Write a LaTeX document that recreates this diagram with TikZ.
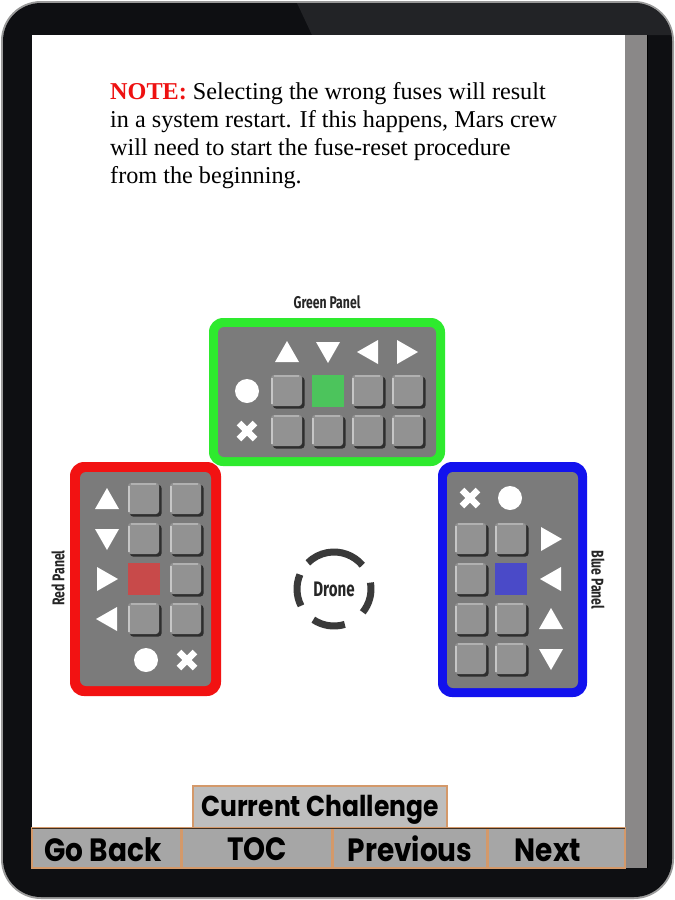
\documentclass[tikz,border=0pt]{standalone}
\usepackage{fontspec}
\usepackage{graphicx}
\setmainfont{Liberation Serif}
\newfontfamily\navfont{Poppins}
\newfontfamily\lblfont{Fira Sans}[FakeStretch=0.72]
\newcommand{\navt}[1]{\scalebox{1}[1.15]{#1}}
\definecolor{frameblack}{HTML}{0E0F12}
\definecolor{framehi}{HTML}{222326}
\definecolor{frameedge}{HTML}{9A9A9A}
\definecolor{stripgray}{HTML}{8A8888}
\definecolor{navgray}{HTML}{A6A6A6}
\definecolor{tabgray}{HTML}{BEBEBE}
\definecolor{tan}{HTML}{D4996A}
\definecolor{panelgray}{HTML}{7B7B7B}
\definecolor{btngray}{HTML}{929292}
\definecolor{btnlight}{HTML}{C6C6C6}
\definecolor{btnshadow}{HTML}{2E2E2E}
\definecolor{pgreen}{HTML}{2EEA2E}
\definecolor{pred}{HTML}{F21212}
\definecolor{pblue}{HTML}{1212EE}
\definecolor{selgreen}{HTML}{4CC45C}
\definecolor{selred}{HTML}{C84A4A}
\definecolor{selblue}{HTML}{4A4AC8}
\definecolor{dronegray}{HTML}{3A3A3A}
\definecolor{notered}{HTML}{EE1111}
\tikzset{
  btn/.pic={
    \fill[btnshadow, rounded corners=3] (-14,-14) rectangle (17.5,17.5);
    \fill[btngray, rounded corners=3] (-16,-16) rectangle (15,15);
    \fill[btnlight] (-16,-13) rectangle (-14,13);
    \fill[btnlight!60!btngray] (-13,-16) rectangle (12,-14.5);
  },
  selbtn/.pic={\fill[#1] (-16,-16) rectangle (16,16);},
  tup/.pic={\fill[white] (-12,10) -- (12,10) -- (0,-11) -- cycle;},
  tdown/.pic={\fill[white] (-12,-10) -- (12,-10) -- (0,11) -- cycle;},
  tleft/.pic={\fill[white] (10,-12) -- (10,12) -- (-11,0) -- cycle;},
  tright/.pic={\fill[white] (-10,-12) -- (-10,12) -- (11,0) -- cycle;},
  dot/.pic={\fill[white] (0,0) circle[radius=12];},
  cross/.pic={\draw[white, line width=6.5] (-8,-8) -- (8,8) (-8,8) -- (8,-8);},
  navbtn/.style={fill=navgray, draw=tan, line width=1.5},
  navtext/.style={font=\navfont\bfseries\fontsize{28}{28}\selectfont, text=black, anchor=base, inner sep=0},
  lbl/.style={font=\lblfont\bfseries\fontsize{17}{17}\selectfont, text=black!85},
}
\begin{document}
\begin{tikzpicture}[x=1pt,y=-1pt]
\useasboundingbox (0,0) rectangle (675,900);
% tablet frame
\fill[frameedge, rounded corners=40] (1,1) rectangle (674,899);
\fill[frameblack, rounded corners=38] (3,3) rectangle (672,897);
\begin{scope}
  \clip[rounded corners=38] (3,3) rectangle (672,897);
  \fill[framehi] (297,3) -- (312,35) -- (672,35) -- (672,3) -- cycle;
\end{scope}
\fill[white] (32,35) rectangle (625,828);
\fill[stripgray] (625,35) rectangle (647,868);
\draw[black, line width=1] (647,35) -- (647,868);
% note text
\node[anchor=north west, align=left, font=\fontsize{24.2}{28}\selectfont, inner sep=0] (note) at (110,82)
 {{\color{notered}\bfseries NOTE:} Selecting the wrong fuses will result\\
  in a system restart. If this happens, Mars crew\\
  will need to start the fuse-reset procedure\\
  from the beginning.};
% green panel
\node[lbl] (glbl) at (327,302) {Green Panel};
\fill[pgreen, rounded corners=14] (209,318) rectangle (445,466);
\fill[panelgray, rounded corners=6] (218,327) rectangle (436,457);
\pic at (287,352) {tup};
\pic at (328,352) {tdown};
\pic at (368,352) {tleft};
\pic at (407,352) {tright};
\pic at (247,391) {dot};
\pic at (247,431) {cross};
\foreach \x in {287,368,408} \pic at (\x,391) {btn};
\pic at (328,391) {selbtn=selgreen};
\foreach \x in {287,328,368,408} \pic at (\x,431) {btn};
% red panel
\node[lbl, rotate=90] (rlbl) at (58,578) {Red Panel};
\fill[pred, rounded corners=14] (70,462) rectangle (221,696);
\fill[panelgray, rounded corners=6] (80,472) rectangle (211,686);
\pic at (107,499) {tup};
\pic at (107,539) {tdown};
\pic at (107,579) {tright};
\pic at (107,619) {tleft};
\foreach \y in {499,539,619} \pic at (144,\y) {btn};
\pic at (144,579) {selbtn=selred};
\foreach \y in {499,539,579,619} \pic at (186,\y) {btn};
\pic at (146,660) {dot};
\pic at (187,660) {cross};
% blue panel
\node[lbl, rotate=-90] (blbl) at (598,580) {Blue Panel};
\fill[pblue, rounded corners=14] (438,462) rectangle (587,697);
\fill[panelgray, rounded corners=6] (447,472) rectangle (578,688);
\pic at (470,498) {cross};
\pic at (510,498) {dot};
\foreach \y in {539,579,619,659} \pic at (471,\y) {btn};
\foreach \y in {539,619,659} \pic at (511,\y) {btn};
\pic at (511,579) {selbtn=selblue};
\pic at (551,539) {tright};
\pic at (551,579) {tleft};
\pic at (551,619) {tup};
\pic at (551,659) {tdown};
% drone
\coordinate (dc) at (334,589);
\begin{scope}[dronegray, line width=7]
  \draw (dc) ++(-40:37) arc[start angle=-40, end angle=-135, radius=37];
  \draw (dc) ++(39:37) arc[start angle=39, end angle=-10, radius=37];
  \draw (dc) ++(124:37) arc[start angle=124, end angle=73, radius=37];
  \draw (dc) ++(153:37) arc[start angle=153, end angle=203, radius=37];
\end{scope}
\node[lbl, font=\lblfont\bfseries\fontsize{21}{21}\selectfont] (drone) at (dc) {Drone};
% tab and nav bar
\draw[fill=tabgray, draw=tan, line width=1.5] (193,786) rectangle (447,828);
\node[navtext, font=\navfont\bfseries\fontsize{25}{25}\selectfont] (cc) at (320,816) {\navt{Current Challenge}};
\draw[navbtn] (32,828) rectangle (181,868);
\draw[navbtn] (182,828) rectangle (332,868);
\draw[navbtn] (333,828) rectangle (487,868);
\draw[navbtn] (488,828) rectangle (625,868);
\draw[black!70!tan, line width=1] (32,828) -- (625,828);
\node[navtext] (goback) at (103,861) {\navt{Go Back}};
\node[navtext] (toc) at (257,860) {\navt{TOC}};
\node[navtext] (prev) at (410,861) {\navt{Previous}};
\node[navtext] (next) at (548,861) {\navt{Next}};
\end{tikzpicture}
\end{document}
